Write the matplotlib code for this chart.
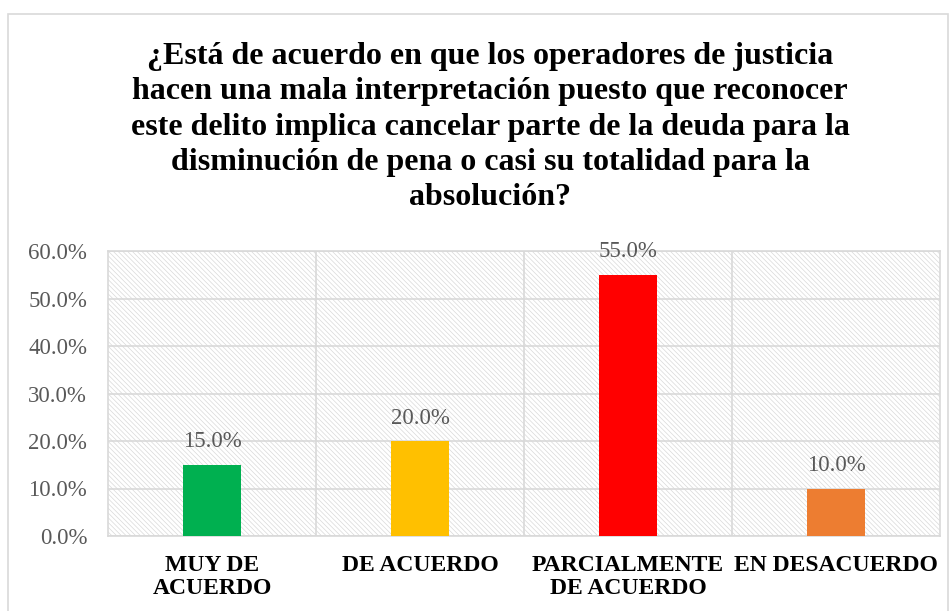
import numpy as np
import matplotlib.pyplot as plt
from matplotlib.patches import Rectangle

# data
categorias = ['MUY DE\nACUERDO', 'DE ACUERDO', 'PARCIALMENTE\nDE ACUERDO', 'EN DESACUERDO']
valores = [0.15, 0.20, 0.55, 0.10]
colores = ['#00B050', '#FFC000', '#FF0000', '#ED7D31']
titulo = ('¿Está de acuerdo en que los operadores de justicia\n'
          'hacen una mala interpretación puesto que reconocer\n'
          'este delito implica cancelar parte de la deuda para la\n'
          'disminución de pena o casi su totalidad para la\n'
          'absolución?')

plt.rcParams['font.family'] = ['Liberation Serif', 'DejaVu Serif']
plt.rcParams['hatch.linewidth'] = 0.5
plt.rcParams['hatch.color'] = '#D9D9D9'

fig = plt.figure(figsize=(9.52, 6.11), dpi=100)
# outer chart border
fig.patches.append(Rectangle((8/952, -0.01), 940/952, 1.01 - 14/611, transform=fig.transFigure,
                             fill=False, edgecolor='#D9D9D9', linewidth=1.2))

ax = fig.add_axes([108/952, 1 - 536/611, (940 - 108)/952, (536 - 251)/611])
ax.set_facecolor('white')
ax.add_patch(Rectangle((0, 0), 1, 1, transform=ax.transAxes, facecolor='white',
                       hatch='\\\\\\\\\\\\\\', edgecolor='#D9D9D9', linewidth=0, zorder=0))

x = np.arange(len(categorias))
barras = ax.bar(x, valores, width=0.275, color=colores, zorder=3)
for xi, v in zip(x, valores):
    ax.text(xi, v + 0.026, f'{v*100:.1f}%', ha='center', va='bottom',
            fontsize=16.5, color='#595959', zorder=4)

ax.set_xlim(-0.5, 3.5)
ax.set_ylim(0, 0.6)
ax.set_yticks(np.arange(0, 0.61, 0.1))
ax.set_yticklabels([f'{t*100:.1f}%' for t in np.arange(0, 0.61, 0.1)], fontsize=16.5, color='#595959')
ax.set_xticks(x)
ax.set_xticklabels(categorias, fontsize=17, fontweight='bold', color='black', linespacing=1.12)
ax.tick_params(length=0, pad=14)
ax.tick_params(axis='y', pad=15)
ax.grid(axis='y', color='#D9D9D9', linewidth=1.2, zorder=1)
for b in [0.5, 1.5, 2.5]:
    ax.axvline(b, color='#D9D9D9', linewidth=1.2, zorder=1)
for s in ax.spines.values():
    s.set_color('#D9D9D9')
    s.set_linewidth(1.2)

fig.text(490/952, 1 - 127/611, titulo, ha='center', va='center', fontsize=23,
         fontweight='bold', linespacing=1.28)

fig.savefig('out.png', dpi=100)
